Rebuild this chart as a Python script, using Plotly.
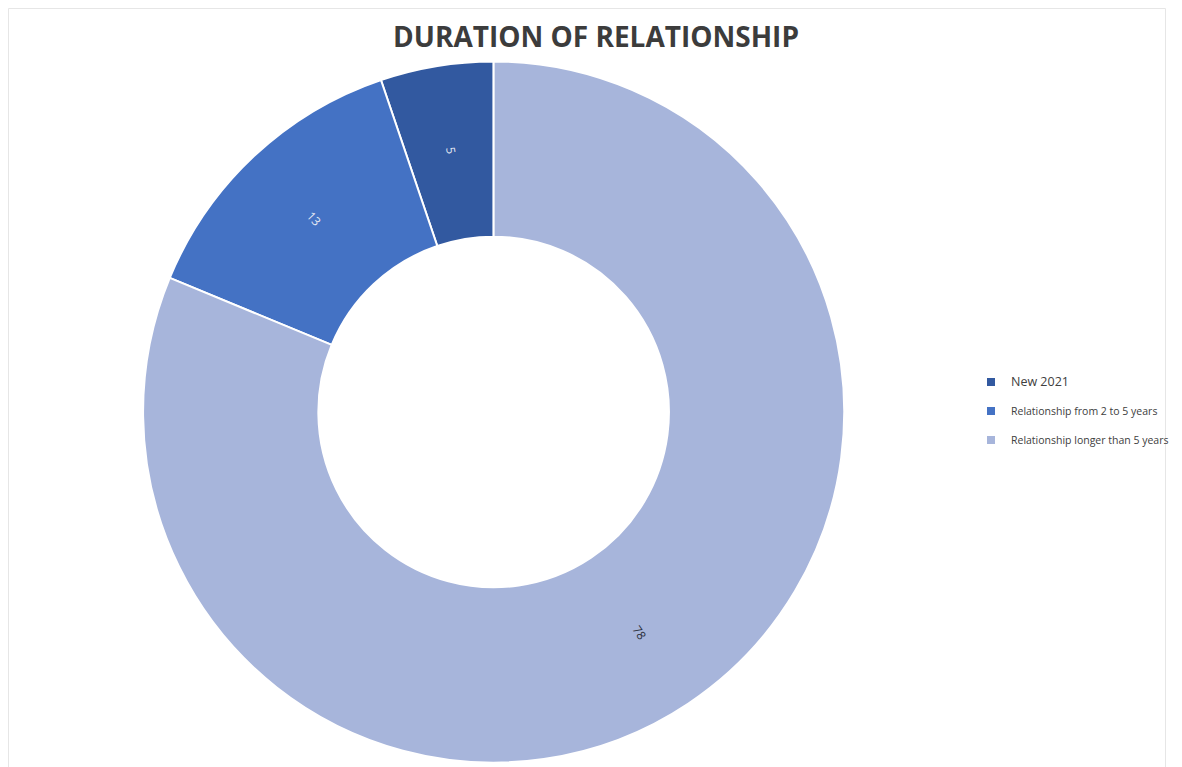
import math
import plotly.graph_objects as go

labels = ["New 2021", "Relationship from 2 to 5 years", "Relationship longer than 5 years"]
values = [5, 13, 78]
colors = ["#3259A0", "#4472C4", "#A7B5DB"]
text_colors = ["#E8ECF5", "#E8ECF5", "#2B2F3A"]

# page body has an 8px margin; the figure sits at (8, 8)
OFF = 8
W, H = 1182 - 2 * OFF, 767 - OFF
cx, cy, r = 497 - OFF, 412 - OFF, 353
hole = 0.5

dom_x = [(cx - r) / W, (cx + r) / W]
dom_y = [max(0, 1 - (cy + r) / H), 1 - (cy - r) / H]

fig = go.Figure()
fig.add_trace(go.Pie(
    labels=labels,
    values=values,
    hole=hole,
    sort=False,
    direction="counterclockwise",
    rotation=-values[0] / sum(values) * 360,
    textinfo="none",
    marker=dict(colors=colors, line=dict(color="white", width=2)),
    domain=dict(x=dom_x, y=dom_y),
    showlegend=False,
))

# value labels, placed radially at each slice's mid-angle
total = sum(values)
start = 0.0  # counter-clockwise from 12 o'clock
pcx, pcy = sum(dom_x) / 2, sum(dom_y) / 2
R = r * (1 + hole) / 2
for v, tc in zip(values, text_colors):
    span = v / total * 360
    mid = -(start + span / 2)  # clockwise-from-top angle
    t = math.radians(mid)
    ang = math.degrees(math.atan2(-math.cos(t), math.sin(t)))
    if ang > 90:
        ang -= 180
    if ang < -90:
        ang += 180
    fig.add_annotation(
        x=pcx + R * math.sin(t) / W, y=pcy + R * math.cos(t) / H,
        xref="paper", yref="paper", text=str(v), showarrow=False,
        textangle=ang, xanchor="center", yanchor="middle",
        font=dict(family="Open Sans", size=12, color=tc),
    )
    start += span

# legend entries (one per slice) for spaced legend
for i, (lab, col) in enumerate(zip(labels, colors)):
    name = f"<span style='font-size:12.5px'>{lab}</span>" if i == 0 else lab
    fig.add_trace(go.Scatter(
        x=[None], y=[None], mode="markers", name=name,
        marker=dict(symbol="square", size=8, color=col),
        legendgroup=lab, showlegend=True, hoverinfo="skip",
    ))

fig.update_layout(
    width=W, height=H,
    margin=dict(l=0, r=0, t=0, b=0),
    paper_bgcolor="white",
    plot_bgcolor="white",
    xaxis=dict(visible=False),
    yaxis=dict(visible=False),
    title=dict(text="<b>DURATION OF RELATIONSHIP</b>", x=(596 - OFF) / W, xanchor="center",
               y=1 - (37 - OFF) / H, yanchor="middle",
               font=dict(family="Open Sans", size=28, color="#3C3C3C")),
    legend=dict(x=(978 - OFF) / W, xanchor="left", y=1 - (411 - OFF) / H, yanchor="middle",
                font=dict(family="Open Sans", size=10.5, color="#404040"),
                itemwidth=30, tracegroupgap=10, bgcolor="rgba(0,0,0,0)"),
    shapes=[dict(type="rect", xref="paper", yref="paper",
                 x0=0.5 / W, x1=1 - 0.5 / W, y0=-0.05, y1=1 - 0.5 / H,
                 line=dict(color="#E6E6E6", width=1), fillcolor="rgba(0,0,0,0)", layer="below")],
)

fig.write_html("out.html")
